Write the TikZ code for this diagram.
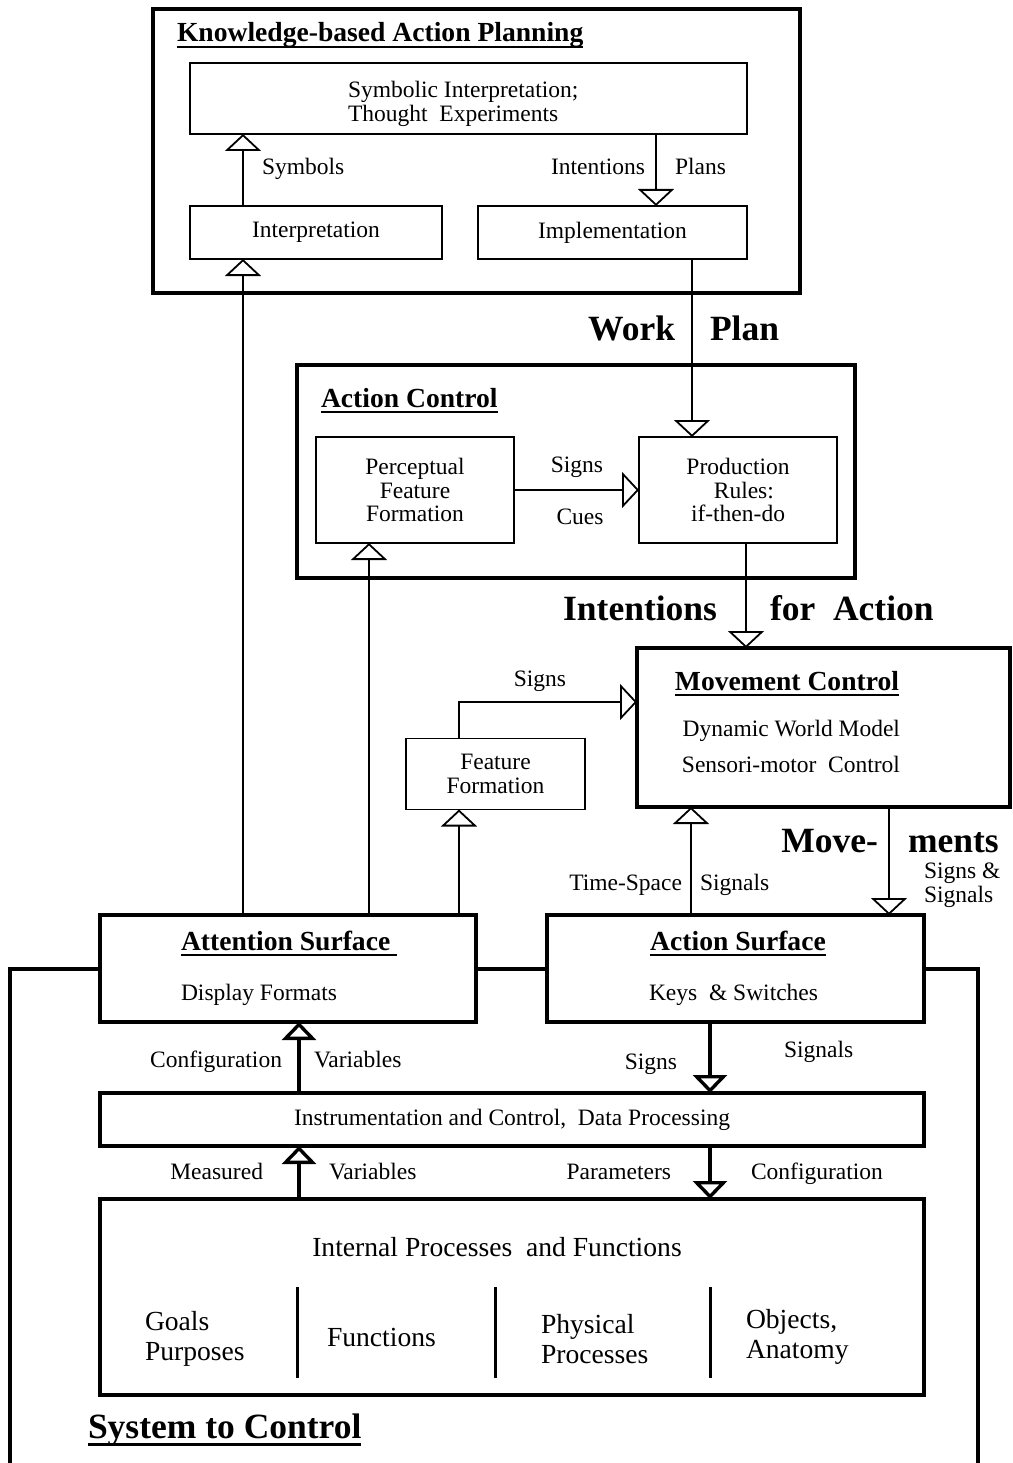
\documentclass[tikz,border=0pt]{standalone}
\usepackage{fontspec}
\setmainfont{Liberation Serif}
\usetikzlibrary{arrows.meta}
\newcommand\bodyfnt{\fontsize{23.5}{23.5}\selectfont}
\newcommand\ttlfnt{\bfseries\fontsize{27.6}{28}\selectfont}
\newcommand\bigfnt{\bfseries\fontsize{35.5}{36}\selectfont}
\newcommand\midfnt{\fontsize{27.6}{30}\selectfont}
\newcommand\ulthis[1]{\setbox0=\hbox{#1}\rlap{\copy0}\rule[-6pt]{\wd0}{2pt}}
\newcommand\ulthisb[1]{\setbox0=\hbox{#1}\rlap{\copy0}\rule[-7.5pt]{\wd0}{3pt}}
\begin{document}
\begin{tikzpicture}[x=1pt,y=-1pt,
  every node/.style={inner sep=0pt, outer sep=0pt, font=\bodyfnt},
  thinbox/.style={draw, line width=1.8pt, align=center},
  thickbox/.style={draw, line width=3.6pt, align=center},
  arr/.style={line width=1.8pt, -{Triangle[length=17pt,width=36pt,fill=white]}},
  tarr/.style={line width=3.4pt, -{Triangle[length=18pt,width=34pt,fill=white]}},
  loopline/.style={line width=4pt},
  divider/.style={line width=3pt},
  ttl/.style={font=\ttlfnt},
  big/.style={font=\bigfnt},
  mid/.style={font=\midfnt, align=left}]
\path[use as bounding box, fill=white] (0,0) rectangle (1012,1463);

% boxes
\node[thickbox, minimum width=647pt, minimum height=284pt] (kbap) at (476.5,151) {};
\node[thinbox, minimum width=557pt, minimum height=71pt] (sym) at (468.5,98.5) {};
\node[thinbox, minimum width=252pt, minimum height=53pt] (interp) at (316,232.5) {Interpretation};
\node[thinbox, minimum width=269pt, minimum height=53pt] (impl) at (612.5,232.5) {Implementation};
\node[thickbox, minimum width=558pt, minimum height=213pt] (ac) at (576,471.5) {};
\node[thinbox, minimum width=198pt, minimum height=106pt] (perc) at (415,490) {Perceptual\\Feature\\Formation};
\node[thinbox, minimum width=198pt, minimum height=106pt] (prod) at (738,490) {Production\\\ \ Rules:\\if-then-do};
\node[thickbox, minimum width=373pt, minimum height=159pt] (mc) at (823.5,727.5) {};
\node[thinbox, minimum width=179pt, minimum height=71pt] (ff) at (495.5,774) {Feature\\Formation};
\node[thickbox, minimum width=376pt, minimum height=107pt] (att) at (288,968.5) {};
\node[thickbox, minimum width=377pt, minimum height=107pt] (act) at (735.5,968.5) {};
\node[thickbox, minimum width=824pt, minimum height=53pt] (instr) at (512,1119.5) {Instrumentation and Control,\ \ Data Processing};
\node[thickbox, minimum width=824pt, minimum height=196pt] (intl) at (512,1297) {};

% helper coordinates
\coordinate (xa) at (243,0);
\coordinate (xb) at (656,0);
\coordinate (xc) at (692,0);
\coordinate (xd) at (369,0);
\coordinate (xe) at (746,0);
\coordinate (xf) at (459,0);
\coordinate (xg) at (691,0);
\coordinate (xh) at (889,0);
\coordinate (xi) at (299,0);
\coordinate (xj) at (710,0);
\coordinate (ys) at (0,702);
\coordinate (lbot) at (10,1463);
\coordinate (rbot) at (978,1463);

% connectors
\draw[arr] (interp.north -| xa) -- (sym.south -| xa);
\draw[arr] (sym.south -| xb) -- (impl.north -| xb);
\draw[arr] (att.north -| xa) -- (interp.south -| xa);
\draw[arr] (impl.south -| xc) -- (prod.north -| xc);
\draw[arr] (perc.east) -- (prod.west);
\draw[arr] (att.north -| xd) -- (perc.south -| xd);
\draw[arr] (prod.south -| xe) -- (mc.north -| xe);
\draw[arr] (ff.north -| xf) |- (mc.west |- ys);
\draw[arr] (att.north -| xf) -- (ff.south -| xf);
\draw[arr] (act.north -| xg) -- (mc.south -| xg);
\draw[arr] (mc.south -| xh) -- (act.north -| xh);
\draw[tarr] (instr.north -| xi) -- (att.south -| xi);
\draw[tarr] (act.south -| xj) -- (instr.north -| xj);
\draw[tarr] (intl.north -| xi) -- (instr.south -| xi);
\draw[tarr] (instr.south -| xj) -- (intl.north -| xj);

\draw[loopline] (att.west) -| (lbot);
\draw[loopline] (att.east) -- (act.west);
\draw[loopline] (act.east) -| (rbot);

\draw[divider] (297,1287) -- (297,1378);
\draw[divider] (495,1287) -- (495,1378);
\draw[divider] (710,1287) -- (710,1378);

% labels
\node[ttl, anchor=base west] (tkb) at (177,42) {\ulthis{Knowledge-based Action Planning}};
\node[anchor=west, align=left] (symtxt) at (348,104) {Symbolic Interpretation;\\Thought\ \ Experiments};
\node[anchor=base west] (lsym) at (262,175) {Symbols};
\node[anchor=base east] (lint) at (645,175) {Intentions};
\node[anchor=base west] (lplan) at (675,175) {Plans};
\node[big, anchor=base east] (lwork) at (675,340) {Work};
\node[big, anchor=base west] (lplan2) at (710,340) {Plan};
\node[ttl, anchor=base west] (tac) at (321,407) {\ulthis{Action Control}};
\node[anchor=base] (lsigns1) at (577,472) {Signs};
\node[anchor=base] (lcues) at (580,524) {Cues};
\node[big, anchor=base east] (lintent) at (717,620) {Intentions};
\node[big, anchor=base west] (lfor) at (770,620) {for\ \ Action};
\node[ttl, anchor=base] (tmc) at (787,690) {\ulthis{Movement Control}};
\node[anchor=base east] (ldwm) at (900,736) {Dynamic World Model};
\node[anchor=base east] (lsmc) at (900,772) {Sensori-motor\ \ Control};
\node[anchor=base] (lsigns2) at (540,686) {Signs};
\node[big, anchor=base east] (lmove) at (878,852) {Move-};
\node[big, anchor=base west] (lments) at (908,852) {ments};
\node[anchor=west, align=left] (lss) at (924,885) {Signs \&\\Signals};
\node[anchor=base east] (lts) at (682,890) {Time-Space};
\node[anchor=base west] (lsig3) at (700,890) {Signals};
\node[ttl, anchor=base west] (tatt) at (181,950) {\ulthis{Attention Surface\ }};
\node[anchor=base west] (ldf) at (181,1000) {Display Formats};
\node[ttl, anchor=base] (tact) at (738,950) {\ulthis{Action Surface}};
\node[anchor=base west] (lks) at (649,1000) {Keys\ \ \& Switches};
\node[anchor=base east] (lconf1) at (282,1067) {Configuration};
\node[anchor=base west] (lvar1) at (314,1067) {Variables};
\node[anchor=base east] (lsigns3) at (677,1069) {Signs};
\node[anchor=base west] (lsig4) at (784,1057) {Signals};
\node[anchor=base east] (lmeas) at (263,1179) {Measured};
\node[anchor=base west] (lvar2) at (329,1179) {Variables};
\node[anchor=base east] (lpar) at (671,1179) {Parameters};
\node[anchor=base west] (lconf2) at (751,1179) {Configuration};
\node[font=\midfnt, anchor=base] (lipf) at (497,1256) {Internal Processes\ \ and Functions};
\node[mid, anchor=west] (lgoals) at (145,1339) {Goals\\Purposes};
\node[mid, anchor=west] (lfun) at (327,1337) {Functions};
\node[mid, anchor=west] (lphys) at (541,1339) {Physical\\Processes};
\node[mid, anchor=west] (lobj) at (746,1337) {Objects,\\Anatomy};
\node[big, anchor=base west] (tsys) at (88,1438) {\ulthisb{System to Control}};
\end{tikzpicture}
\end{document}
